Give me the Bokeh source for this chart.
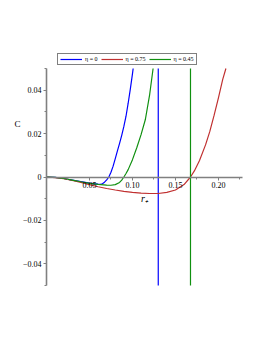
import numpy as np
from bokeh.plotting import figure
from bokeh.models import FixedTicker, Legend, LegendItem, Label, Range1d
from bokeh.embed import file_html
from bokeh.resources import INLINE

nan = np.nan

# eta = 0 (blue) -- pole near r = 0.130 (curve shown within |C| <= 0.05)
r_eta0 = [0, 0.01, 0.02, 0.03, 0.04, 0.05, 0.06, 0.0625, 0.065, 0.0675, 0.07,
          0.0725, 0.075, 0.0775, 0.08, 0.0825, 0.085, 0.0875, 0.09, 0.0925,
          0.095, 0.0975, 0.1, 0.1008, nan, 0.13, 0.13]
C_eta0 = [0, -0.0002, -0.0007, -0.0014, -0.0021, -0.0028, -0.0033, -0.0034,
          -0.0031, -0.0024, -0.0013, 0, 0.0022, 0.005, 0.0085, 0.012, 0.0155,
          0.0192, 0.0233, 0.028, 0.034, 0.0405, 0.0475, 0.05, nan, 0.05, -0.05]

# eta = 0.75 (red)
r_eta75 = [0, 0.01, 0.02, 0.03, 0.04, 0.05, 0.06, 0.07, 0.08, 0.09, 0.1, 0.11,
           0.12, 0.13, 0.14, 0.15, 0.16, 0.1675, 0.172, 0.178, 0.185, 0.19,
           0.195, 0.2, 0.205, 0.2087]
C_eta75 = [0, -0.0003, -0.0008, -0.0016, -0.0025, -0.0035, -0.0045, -0.0053,
           -0.006, -0.0066, -0.0071, -0.0074, -0.0076, -0.0076, -0.0071, -0.006,
           -0.0035, 0, 0.0028, 0.0076, 0.0148, 0.021, 0.0285, 0.0365, 0.045, 0.05]

# eta = 0.45 (green) -- pole near r = 0.1675
r_eta45 = [0, 0.01, 0.02, 0.03, 0.04, 0.05, 0.06, 0.07, 0.075, 0.08, 0.085,
           0.0875, 0.09, 0.0925, 0.095, 0.1, 0.105, 0.11, 0.115, 0.12, 0.124,
           nan, 0.1675, 0.1675]
C_eta45 = [0, -0.0002, -0.0007, -0.0014, -0.0022, -0.0029, -0.0034, -0.0037,
           -0.0038, -0.0035, -0.0025, -0.0014, 0, 0.0016, 0.0034, 0.008, 0.0135,
           0.0195, 0.0265, 0.038, 0.05, nan, 0.05, -0.05]

x_ticks = [0.05, 0.1, 0.15, 0.2]
x_tick_labels = ["0.05", "0.10", "0.15", "0.20"]
x_minor = [0.025, 0.075, 0.125, 0.175, 0.225]
y_ticks = [-0.04, -0.02, 0, 0.02, 0.04]
y_tick_labels = ["\u22120.04", "\u22120.02", "0", "0.02", "0.04"]
y_minor = [-0.05, -0.03, -0.01, 0.01, 0.03, 0.05]

FONT = "Liberation Serif"

W, H = 262, 339
XPX = 0.228 / 196       # data units per pixel, x
YPX = 0.1 / 217         # data units per pixel, y
X0, Y0 = 46, 176.5      # pixel position of the origin

p = figure(width=W, height=H, output_backend="svg", toolbar_location=None,
           x_range=Range1d(-X0 * XPX, (W - X0) * XPX),
           y_range=Range1d(-(H - Y0) * YPX, Y0 * YPX),
           min_border=0)
p.outline_line_color = None
p.grid.visible = False
p.background_fill_color = "white"
p.border_fill_color = "white"

l0 = p.line(r_eta0, C_eta0, line_color="#0000ff", line_width=1.2)
l1 = p.line(r_eta75, C_eta75, line_color="#c03030", line_width=1.2)
l2 = p.line(r_eta45, C_eta45, line_color="#109010", line_width=1.2)

for ax in (p.xaxis[0], p.yaxis[0]):
    ax.fixed_location = 0
    ax.axis_line_color = "#808080"
    ax.axis_line_width = 1.6
    ax.major_tick_line_color = "#808080"
    ax.minor_tick_line_color = "#808080"
    ax.major_tick_in = 0
    ax.major_tick_out = 3
    ax.minor_tick_in = 0
    ax.minor_tick_out = 2
    ax.major_label_text_font = FONT
    ax.major_label_text_font_size = "8px"
    ax.major_label_text_color = "black"
    ax.major_label_standoff = 2

p.xaxis[0].bounds = (0, 0.228)
p.yaxis[0].bounds = (-0.05, 0.05)
p.xaxis[0].ticker = FixedTicker(ticks=x_ticks, minor_ticks=x_minor)
p.xaxis[0].major_label_overrides = dict(zip(x_ticks, x_tick_labels))
p.yaxis[0].ticker = FixedTicker(ticks=y_ticks, minor_ticks=y_minor)
p.yaxis[0].major_label_overrides = dict(zip(y_ticks, y_tick_labels))

p.xaxis[0].axis_label = "r\u208a"
p.xaxis[0].axis_label_text_font = FONT
p.xaxis[0].axis_label_text_font_style = "italic"
p.xaxis[0].axis_label_text_font_size = "10px"
p.xaxis[0].axis_label_text_color = "black"
p.xaxis[0].axis_label_standoff = 1

p.add_layout(Label(x=-0.0337, y=0.0242, text="C", text_font=FONT,
                   text_font_size="9px", text_color="black",
                   text_align="center", text_baseline="middle"))

legend = Legend(items=[LegendItem(label="\u03b7 = 0", renderers=[l0]),
                       LegendItem(label="\u03b7 = 0.75", renderers=[l1]),
                       LegendItem(label="\u03b7 = 0.45", renderers=[l2])],
                orientation="horizontal", location=(57, 274),
                label_text_font=FONT, label_text_font_size="6px",
                label_text_color="black",
                glyph_width=22, glyph_height=6, label_width=10, label_height=6,
                padding=2, spacing=3, margin=0, label_standoff=3,
                border_line_color="black", border_line_width=1,
                background_fill_alpha=1)
p.add_layout(legend)

open("out.html", "w").write(file_html(p, INLINE))
